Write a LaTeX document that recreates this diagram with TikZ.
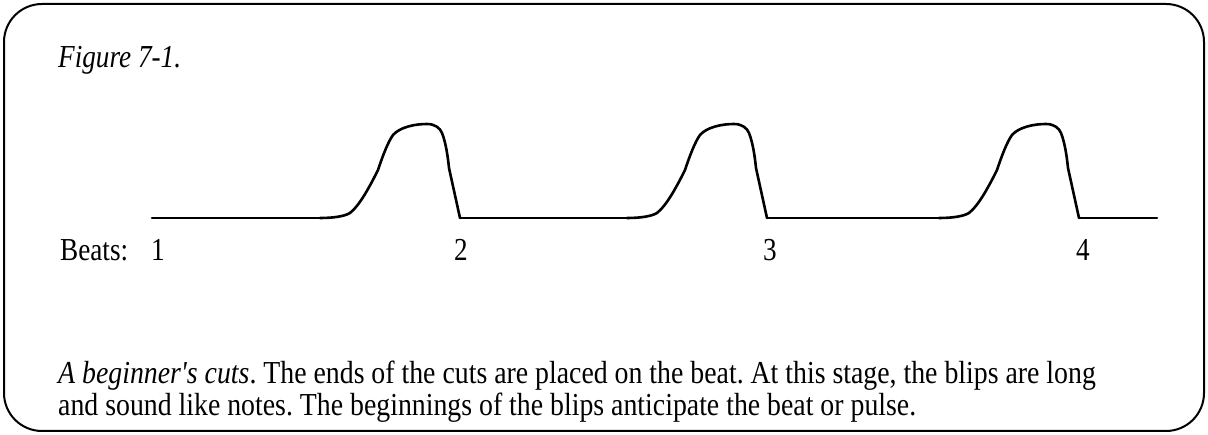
\documentclass[tikz,border=0pt]{standalone}
\usepackage{fontspec}
\setmainfont{Liberation Serif}[FakeStretch=0.85]
\newfontfamily\capfont{Liberation Serif}[FakeStretch=0.869]
\begin{document}
\frenchspacing
\begin{tikzpicture}[x=1pt,y=-1pt,
  frame/.style={draw=black,line width=2pt,rounded corners=38pt},
  wave/.style={draw=black,line width=2.6pt,line cap=round,line join=round},
  txt/.style={inner sep=0pt,anchor=base west,font=\fontsize{32}{32}\selectfont},
  beat/.style={inner sep=0pt,anchor=base,font=\fontsize{32}{32}\selectfont}]
\useasboundingbox (0,0) rectangle (1208,435);
\draw[frame] (4,4) rectangle (1204,431);
\node[txt,font=\fontsize{32}{32}\selectfont\itshape] (title) at (58,68) {Figure 7-1.};
% flat segments
\draw[wave] (152,218) -- (320,218);
\draw[wave] (460,218) -- (627,218);
\draw[wave] (767,218) -- (939,218);
\draw[wave] (1079,218) -- (1157,218);
% blips
\foreach \s in {0,307,619}{
\begin{scope}[xshift=\s pt]
\draw[wave] (320,218) .. controls (335,218) and (345,216) .. (350,213)
  .. controls (360,205) and (370,186) .. (378,170)
  .. controls (383,155) and (388,142) .. (393,135)
  .. controls (400,127) and (415,124) .. (427,124)
  .. controls (435,124) and (440,128) .. (442,133)
  .. controls (446,143) and (448,158) .. (449,168)
  -- (460,218);
\end{scope}}
\node[txt] (beats) at (60,261) {Beats:};
\node[beat] (b1) at (158,261) {1};
\node[beat] (b2) at (461,261) {2};
\node[beat] (b3) at (770,261) {3};
\node[beat] (b4) at (1083,261) {4};
\node[txt,align=left,font=\capfont\fontsize{32}{32}\selectfont] (caption) at (58,416) {\textit{A beginner's cuts}. The ends of the cuts are placed on the beat. At this stage, the blips are long\\and sound like notes. The beginnings of the blips anticipate the beat or pulse.};
\end{tikzpicture}
\end{document}
